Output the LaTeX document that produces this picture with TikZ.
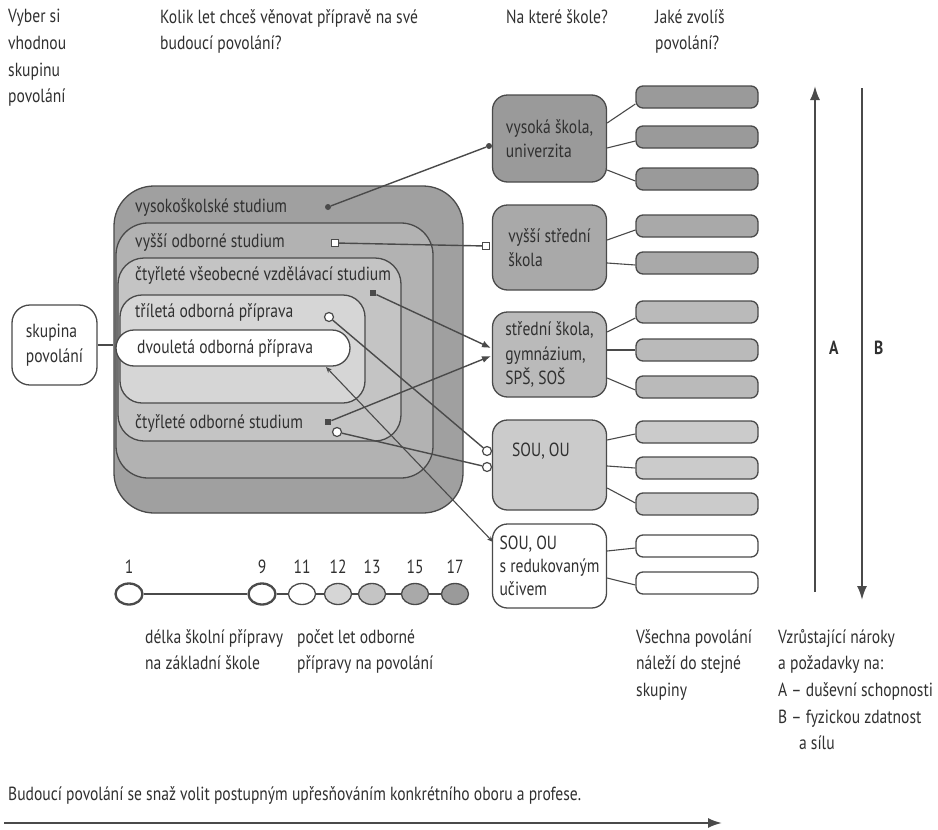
\documentclass[tikz,border=0pt]{standalone}
\usepackage{fontspec}
\setmainfont[FakeStretch=0.82]{PT Sans}
\usetikzlibrary{arrows.meta,shapes.geometric}
\definecolor{ink}{HTML}{303030}
\definecolor{ln}{HTML}{4A4A4A}
\definecolor{g1}{HTML}{9A9A9A}
\definecolor{g2}{HTML}{A9A9A9}
\definecolor{g3}{HTML}{BABABA}
\definecolor{g4}{HTML}{CBCBCB}
\definecolor{n1}{HTML}{A0A0A0}
\definecolor{n2}{HTML}{B2B2B2}
\definecolor{n3}{HTML}{C4C4C4}
\definecolor{n4}{HTML}{D6D6D6}
\tikzset{
  txt/.style={inner sep=0pt, text=ink, anchor=west, font=\fontsize{19}{26.7}\selectfont},
  mtxt/.style={inner sep=0pt, text=ink, anchor=north west, align=left, font=\fontsize{19}{26.7}\selectfont},
  nest/.style={draw=ln, line width=1.3pt, inner sep=0pt},
  school/.style={draw=ln, line width=1.3pt, rounded corners=15pt, minimum width=114pt, inner sep=0pt, align=left, text=ink, font=\fontsize{19}{24.5}\selectfont},
  bar/.style={draw=ln, line width=1.3pt, rounded corners=7pt, minimum width=122pt, minimum height=22pt, inner sep=0pt},
  conn/.style={draw=ln, line width=1.4pt},
  fdot/.style={circle, fill=ln, inner sep=0pt, minimum size=6pt},
  osq/.style={rectangle, draw=ln, line width=1.2pt, fill=white, inner sep=0pt, minimum size=7pt},
  fsq/.style={rectangle, fill=ln, inner sep=0pt, minimum size=6.5pt},
  ocirc/.style={circle, draw=ln, line width=1.2pt, fill=white, inner sep=0pt, minimum size=9pt},
  tc/.style={ellipse, draw=ln, line width=1.3pt, minimum width=27pt, minimum height=21pt, inner sep=0pt},
  num/.style={inner sep=0pt, text=ink, font=\fontsize{19}{22}\selectfont},
  bigarrow/.style={draw=ln, line width=2pt, -{Latex[length=14pt,width=10pt]}},
}
\begin{document}
\begin{tikzpicture}[x=1pt,y=-1pt]
\useasboundingbox[fill=white] (0,0) rectangle (938,830);

% top questions
\node[mtxt] (q1) at (8,9) {Vyber si\\vhodnou\\skupinu\\povolání};
\node[mtxt] (q2) at (160,9) {Kolik let chceš věnovat přípravě na své\\budoucí povolání?};
\node[mtxt] (q3) at (506,9) {Na které škole?};
\node[mtxt] (q4) at (655,9) {Jaké zvolíš\\povolání?};

% nested boxes
\node[nest, fill=n1, rounded corners=40pt, minimum width=349pt, minimum height=327pt] (vs) at (288.5,349.5) {};
\node[nest, fill=n2, rounded corners=32pt, minimum width=317pt, minimum height=255pt] (vo) at (274.5,350.5) {};
\node[nest, fill=n3, rounded corners=26pt, minimum width=283pt, minimum height=183pt] (cv) at (259.5,349.5) {};
\node[nest, fill=n4, rounded corners=22pt, minimum width=245pt, minimum height=108pt] (tr) at (242.5,349) {};
\node[nest, fill=white, rounded corners=18pt, minimum width=234pt, minimum height=36pt] (dv) at (233,348) {};

\node[txt] (l1) at (135,207) {vysokoškolské studium};
\node[txt] (l2) at (135,242) {vyšší odborné studium};
\node[txt] (l3) at (135,275) {čtyřleté všeobecné vzdělávací studium};
\node[txt] (l4) at (135,312) {tříletá odborná příprava};
\node[txt] (l5) at (137,348) {dvouletá odborná příprava};
\node[txt] (l6) at (135,423) {čtyřleté odborné studium};

% skupina povolání
\node[draw=ln, line width=1.3pt, fill=white, rounded corners=18pt, minimum width=85pt, minimum height=80pt, align=left, text=ink, inner sep=0pt, font=\fontsize{19}{25}\selectfont] (sk) at (54.5,345) {skupina\\povolání};
\draw[conn] (sk.east) -- (sk.east -| vs.west);

% school boxes
\node[school, fill=g1, minimum height=87pt] (s1) at (549.5,138.5) {vysoká škola,\\univerzita};
\node[school, fill=g2, minimum height=85pt] (s2) at (549.5,247.5) {vyšší střední\\škola};
\node[school, fill=g3, minimum height=85pt] (s3) at (549.5,354.5) {střední škola,\\gymnázium,\\SPŠ, SOŠ};
\node[school, fill=g4, minimum height=90pt] (s4) at (549.5,465) {};
\node[txt] (s4t) at (512,451) {SOU, OU};
\node[school, fill=white, minimum height=84pt, font=\fontsize{19}{23}\selectfont] (s5) at (549.5,566) {SOU, OU\\s redukovaným\\učivem};

% profession bars
\node[bar, fill=g1] (b1) at (697,97) {};
\node[bar, fill=g1] (b2) at (697,137) {};
\node[bar, fill=g1] (b3) at (697,179) {};
\node[bar, fill=g2] (b4) at (697,226) {};
\node[bar, fill=g2] (b5) at (697,263) {};
\node[bar, fill=g3] (b6) at (697,312) {};
\node[bar, fill=g3] (b7) at (697,350) {};
\node[bar, fill=g3] (b8) at (697,387) {};
\node[bar, fill=g4] (b9) at (697,432) {};
\node[bar, fill=g4] (b10) at (697,468) {};
\node[bar, fill=g4] (b11) at (697,504) {};
\node[bar, fill=white] (b12) at (697,546) {};
\node[bar, fill=white] (b13) at (697,583) {};

\draw[conn, line width=1.1pt] (s1.east |- 0,123) -- (b1.west |- 0,104);
\draw[conn, line width=1.1pt] (s1.east |- 0,148) -- (b2.west |- 0,141);
\draw[conn, line width=1.1pt] (s1.east |- 0,170) -- (b3.west |- 0,181);
\draw[conn, line width=1.1pt] (s2.east |- 0,240) -- (b4.west |- 0,230);
\draw[conn, line width=1.1pt] (s2.east |- 0,263) -- (b5.west |- 0,265);
\draw[conn, line width=1.1pt] (s3.east |- 0,332) -- (b6.west |- 0,318);
\draw[conn, line width=1.1pt] (s3.east |- 0,350) -- (b7.west |- 0,350);
\draw[conn, line width=1.1pt] (s3.east |- 0,378) -- (b8.west |- 0,390);
\draw[conn, line width=1.1pt] (s4.east |- 0,440) -- (b9.west |- 0,434);
\draw[conn, line width=1.1pt] (s4.east |- 0,466) -- (b10.west |- 0,468);
\draw[conn, line width=1.1pt] (s4.east |- 0,488) -- (b11.west |- 0,503);
\draw[conn, line width=1.1pt] (s5.east |- 0,551) -- (b12.west |- 0,548);
\draw[conn, line width=1.1pt] (s5.east |- 0,578) -- (b13.west |- 0,585);

% markers and connectors
\node[fdot] (m1) at (328,207) {};
\node[fdot] (m1e) at (489,146) {};
\node[osq] (m2) at (335,243) {};
\node[osq] (m2e) at (486,246) {};
\node[fsq] (m3) at (373,293) {};
\coordinate (m3e) at (491,348);
\node[fsq] (m4) at (328,422) {};
\coordinate (m4e) at (491,356);
\node[ocirc] (m5) at (329,317) {};
\node[ocirc] (m5e) at (487,451) {};
\node[ocirc] (m6) at (337,432) {};
\node[ocirc] (m6e) at (487,467) {};
\coordinate (m7) at (326,367);
\coordinate (m7e) at (493,542);

\draw[conn] (m1) -- (m1e);
\draw[conn] (m2) -- (m2e);
\draw[conn, -{Latex[length=9pt,width=7pt]}] (m3) -- (m3e);
\draw[conn, -{Latex[length=9pt,width=7pt]}] (m4) -- (m4e);
\draw[conn] (m5) -- (m5e);
\draw[conn] (m6) -- (m6e);
\draw[conn, line width=1.1pt, {Stealth[length=6pt,width=5pt]}-{Stealth[length=6pt,width=5pt]}] (m7) -- (m7e);

% A / B arrows
\coordinate (a0) at (815,592);
\coordinate (a1) at (815,86);
\coordinate (bb0) at (862,88);
\coordinate (bb1) at (862,600);
\draw[bigarrow] (a0) -- (a1);
\draw[bigarrow] (bb0) -- (bb1);
\node[txt, font=\fontsize{19}{22}\selectfont\bfseries] (la) at (829,348) {A};
\node[txt, font=\fontsize{19}{22}\selectfont\bfseries] (lb) at (874,348) {B};

% timeline
\node[tc, fill=white, line width=2.3pt] (t1) at (129,594) {};
\node[tc, fill=white, line width=2.3pt] (t9) at (262,594) {};
\node[tc, fill=white] (t11) at (302,594) {};
\node[tc, fill=n4] (t12) at (338,594) {};
\node[tc, fill=n3] (t13) at (372,594) {};
\node[tc, fill=g2] (t15) at (415,594) {};
\node[tc, fill=g1] (t17) at (455,594) {};
\draw[conn, line width=1.1pt] (t1) -- (t9) (t9) -- (t11) (t11) -- (t12) (t12) -- (t13) (t13) -- (t15) (t15) -- (t17);
\node[num] (n1) at (129,567) {1};
\node[num] (n9) at (262,567) {9};
\node[num] (n11) at (302,567) {11};
\node[num] (n12) at (338,567) {12};
\node[num] (n13) at (372,567) {13};
\node[num] (n15) at (415,567) {15};
\node[num] (n17) at (455,567) {17};

% bottom texts
\node[mtxt] (d1) at (145,629) {délka školní přípravy\\na základní škole};
\node[mtxt] (d2) at (297,629) {počet let odborné\\přípravy na povolání};
\node[mtxt] (d3) at (636,629) {Všechna povolání\\náleží do stejné\\skupiny};
\node[mtxt] (d4) at (778,629) {Vzrůstající nároky\\a požadavky na:\\A – duševní schopnosti\\B – fyzickou zdatnost\\\hspace*{1.1em}a sílu};

\node[txt] (ft) at (8,795) {Budoucí povolání se snaž volit postupným upřesňováním konkrétního oboru a profese.};
\coordinate (f0) at (4,823);
\coordinate (f1) at (722,823);
\draw[bigarrow] (f0) -- (f1);
\end{tikzpicture}
\end{document}
